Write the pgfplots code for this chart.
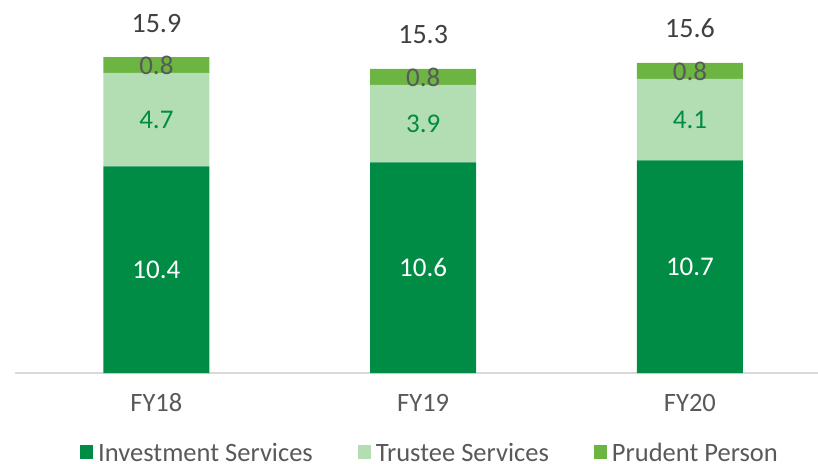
\documentclass[border=0pt]{standalone}
\usepackage{fontspec}
\setmainfont{Carlito}
\usepackage{pgfplots}
\pgfplotsset{compat=1.18}
\definecolor{invest}{HTML}{008C45}
\definecolor{trustee}{HTML}{B3DEB3}
\definecolor{prudent}{HTML}{6DB543}
\definecolor{txt}{HTML}{595959}
\definecolor{tot}{HTML}{404040}
\definecolor{axisgrey}{HTML}{D9D9D9}
\pgfplotsset{
    frame/.style={
        at={(0,0)}, anchor=south west,
        scale only axis,
        width=803pt, height=373pt,
        xmin=-0.53, xmax=2.48,
        ymin=0, ymax=18.77,
        clip=false,
        /pgf/number format/assume math mode=true,
    },
}
\begin{document}
\begin{tikzpicture}
\begin{axis}[
    frame,
    ybar stacked, bar width=106pt,
    axis x line*=bottom, axis y line=none,
    x axis line style={draw=axisgrey, line width=1.5pt},
    xtick={0,1,2}, xticklabels={FY18,FY19,FY20},
    major tick length=0pt,
    xticklabel style={anchor=base, yshift=-38pt, font=\fontsize{26.5}{30}\selectfont, text=txt},
    ytick=\empty,
    visualization depends on=rawy \as \rawy,
    nodes near coords={\pgfmathprintnumber[fixed,precision=1,fixed zerofill]{\rawy}},
    every node near coord/.append style={anchor=center, font=\fontsize{27}{31}\selectfont},
    legend image code/.code={\fill[#1] (0pt,-6pt) rectangle (13pt,8pt);},
    legend columns=3,
    legend style={draw=none, fill=none, at={(0.5156,-0.247)}, anchor=south,
        font=\fontsize{26.5}{30}\selectfont, text=txt,
        /tikz/every even column/.append style={column sep=45pt},
        /tikz/every odd column/.append style={column sep=5pt},
        nodes={inner sep=0pt}},
]
\addplot[fill=invest, draw=none, every node near coord/.append style={text=white}]
    coordinates {(0,10.4) (1,10.6) (2,10.7)};
\addplot[fill=trustee, draw=none, every node near coord/.append style={text=invest}]
    coordinates {(0,4.7) (1,3.9) (2,4.1)};
\addplot[fill=prudent, draw=none, every node near coord/.append style={text=txt}]
    coordinates {(0,0.8) (1,0.8) (2,0.8)};
\legend{Investment Services, Trustee Services, Prudent Person}
\end{axis}
% totals above the bars, on an overlaid axis with the same frame
\begin{axis}[frame, hide axis]
\addplot[draw=none, mark=none,
    nodes near coords={\pgfmathprintnumber[fixed,precision=1,fixed zerofill]{\pgfplotspointmeta}},
    every node near coord/.append style={anchor=base, yshift=25pt, text=tot, font=\fontsize{28}{32}\selectfont}]
    coordinates {(0,15.9) (1,15.3) (2,15.6)};
\end{axis}
\pgfresetboundingbox
\useasboundingbox (-15pt,-90pt) rectangle (803pt,373pt);
\end{tikzpicture}
\end{document}
